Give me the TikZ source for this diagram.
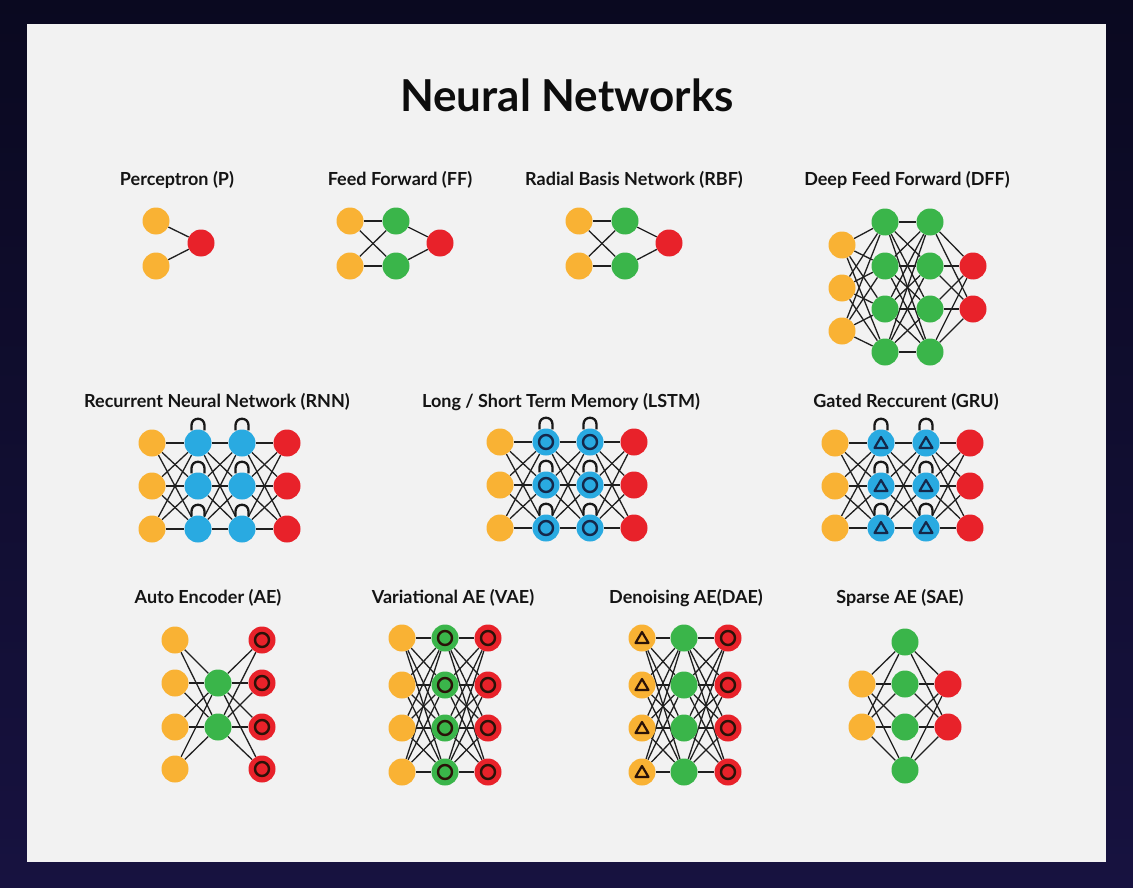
\documentclass[tikz,border=0pt]{standalone}
\usepackage{fontspec}
\setmainfont{Lato}
\pgfdeclarelayer{bg}
\pgfdeclarelayer{edges}
\pgfsetlayers{bg,edges,main}
\definecolor{cOr}{HTML}{F9B234}
\definecolor{cGr}{HTML}{3AB54A}
\definecolor{cRd}{HTML}{E8222A}
\definecolor{cBl}{HTML}{29AAE1}
\definecolor{cNv}{HTML}{15284A}
\definecolor{cDk}{HTML}{2A1208}
\definecolor{cPanel}{HTML}{F2F2F2}
\definecolor{cSpace}{HTML}{0A0920}
\definecolor{cSpace2}{HTML}{171240}
\tikzset{
  nn/.style={circle, minimum size=27pt, inner sep=0pt, draw=none},
  inp/.style={nn, fill=cOr},
  hid/.style={nn, fill=cGr},
  outp/.style={nn, fill=cRd},
  rec/.style={nn, fill=cBl},
  ringed/.style={path picture={\draw[line width=2.4pt, #1] (path picture bounding box.center) circle (7pt);}},
  tri/.style={path picture={\draw[line width=2.2pt, #1, line join=round, shift={(path picture bounding box.center)}] (0pt,6pt) -- (-6.5pt,-5pt) -- (6.5pt,-5pt) -- cycle;}},
  edge/.style={draw=black!88, line width=1.3pt},
  loopst/.style={draw=black!90, line width=2.3pt},
  lbl/.style={font=\bfseries\fontsize{18}{20}\selectfont, text=black!92},
  ttl/.style={font=\bfseries\fontsize{44}{48}\selectfont, text=black!95}
}
\begin{document}
\begin{tikzpicture}[x=1pt, y=-1pt]
\useasboundingbox (0,0) rectangle (1133,888);
\begin{pgfonlayer}{bg}
  \shade[top color=cSpace, bottom color=cSpace2] (0,0) rectangle (1133,888);
  \fill[cPanel] (27,24) rectangle (1106,862);
\end{pgfonlayer}

\node[ttl] (title) at (567,95) {Neural Networks};

% ---------- Perceptron
\node[lbl] (lP) at (177,180) {Perceptron (P)};
\node[inp] (pa1) at (156,221) {};
\node[inp] (pa2) at (156,266) {};
\node[outp] (pc1) at (201,243) {};
\begin{pgfonlayer}{edges}
\foreach \i in {1,2} \draw[edge] (pa\i) -- (pc1);
\end{pgfonlayer}

% ---------- Feed Forward
\node[lbl] (lFF) at (400,180) {Feed Forward (FF)};
\node[inp] (fa1) at (350,221) {};
\node[inp] (fa2) at (350,266) {};
\node[hid] (fb1) at (396,221) {};
\node[hid] (fb2) at (396,266) {};
\node[outp] (fc1) at (440,243) {};
\begin{pgfonlayer}{edges}
\foreach \i in {1,2} {\foreach \j in {1,2} \draw[edge] (fa\i) -- (fb\j); \draw[edge] (fb\i) -- (fc1);}
\end{pgfonlayer}

% ---------- RBF
\node[lbl] (lRBF) at (634,180) {Radial Basis Network (RBF)};
\node[inp] (ra1) at (579,221) {};
\node[inp] (ra2) at (579,266) {};
\node[hid] (rb1) at (625,221) {};
\node[hid] (rb2) at (625,266) {};
\node[outp] (rc1) at (669,243) {};
\begin{pgfonlayer}{edges}
\foreach \i in {1,2} {\foreach \j in {1,2} \draw[edge] (ra\i) -- (rb\j); \draw[edge] (rb\i) -- (rc1);}
\end{pgfonlayer}

% ---------- DFF
\node[lbl] (lDFF) at (907,180) {Deep Feed Forward (DFF)};
\foreach \i/\y in {1/245,2/288,3/331} \node[inp] (da\i) at (842,\y) {};
\foreach \i/\y in {1/222,2/266,3/309,4/352} {
  \node[hid] (db\i) at (885,\y) {};
  \node[hid] (dc\i) at (930,\y) {};
}
\foreach \i/\y in {1/266,2/309} \node[outp] (dd\i) at (973,\y) {};
\begin{pgfonlayer}{edges}
\foreach \j in {1,...,4} {
  \foreach \i in {1,2,3} \draw[edge] (da\i) -- (db\j);
  \foreach \i in {1,...,4} \draw[edge] (db\i) -- (dc\j);
  \foreach \k in {1,2} \draw[edge] (dc\j) -- (dd\k);
}
\end{pgfonlayer}

% ---------- RNN
\node[lbl] (lRNN) at (217,402) {Recurrent Neural Network (RNN)};
\foreach \i/\y in {1/443,2/486,3/529} {
  \node[inp] (na\i) at (152,\y) {};
  \node[rec] (nb\i) at (198,\y) {};
  \node[rec] (nc\i) at (242,\y) {};
  \node[outp] (nd\i) at (287,\y) {};
}
\begin{pgfonlayer}{edges}
\foreach \i in {1,2,3} \foreach \j in {1,2,3} {
  \draw[edge] (na\i) -- (nb\j);
  \draw[edge] (nb\i) -- (nc\j);
  \draw[edge] (nc\i) -- (nd\j);
}
\end{pgfonlayer}
\foreach \n in {nb1,nb2,nb3,nc1,nc2,nc3}
  \draw[loopst] ([xshift=-6.5pt,yshift=-1pt]\n.north) -- ++(0pt,5pt) .. controls +(0pt,8.7pt) and +(0pt,8.7pt) .. ++(13pt,0pt) -- ++(0pt,-5pt);

% ---------- LSTM
\node[lbl] (lLSTM) at (561,402) {Long / Short Term Memory (LSTM)};
\foreach \i/\y in {1/442,2/485,3/528} {
  \node[inp] (la\i) at (500,\y) {};
  \node[rec, ringed=cNv] (lb\i) at (546,\y) {};
  \node[rec, ringed=cNv] (lc\i) at (590,\y) {};
  \node[outp] (ld\i) at (634,\y) {};
}
\begin{pgfonlayer}{edges}
\foreach \i in {1,2,3} \foreach \j in {1,2,3} {
  \draw[edge] (la\i) -- (lb\j);
  \draw[edge] (lb\i) -- (lc\j);
  \draw[edge] (lc\i) -- (ld\j);
}
\end{pgfonlayer}
\foreach \n in {lb1,lb2,lb3,lc1,lc2,lc3}
  \draw[loopst] ([xshift=-6.5pt,yshift=-1pt]\n.north) -- ++(0pt,5pt) .. controls +(0pt,8.7pt) and +(0pt,8.7pt) .. ++(13pt,0pt) -- ++(0pt,-5pt);

% ---------- GRU
\node[lbl] (lGRU) at (906,402) {Gated Reccurent (GRU)};
\foreach \i/\y in {1/443,2/486,3/528} {
  \node[inp] (ga\i) at (835,\y) {};
  \node[rec, tri=cNv] (gb\i) at (881,\y) {};
  \node[rec, tri=cNv] (gc\i) at (926,\y) {};
  \node[outp] (gd\i) at (970,\y) {};
}
\begin{pgfonlayer}{edges}
\foreach \i in {1,2,3} \foreach \j in {1,2,3} {
  \draw[edge] (ga\i) -- (gb\j);
  \draw[edge] (gb\i) -- (gc\j);
  \draw[edge] (gc\i) -- (gd\j);
}
\end{pgfonlayer}
\foreach \n in {gb1,gb2,gb3,gc1,gc2,gc3}
  \draw[loopst] ([xshift=-6.5pt,yshift=-1pt]\n.north) -- ++(0pt,5pt) .. controls +(0pt,8.7pt) and +(0pt,8.7pt) .. ++(13pt,0pt) -- ++(0pt,-5pt);

% ---------- AE
\node[lbl] (lAE) at (208,598) {Auto Encoder (AE)};
\foreach \i/\y in {1/640,2/683,3/727,4/769} {
  \node[inp] (aa\i) at (175,\y) {};
  \node[outp, ringed=cDk] (ac\i) at (262,\y) {};
}
\node[hid] (ab1) at (218,683) {};
\node[hid] (ab2) at (218,727) {};
\begin{pgfonlayer}{edges}
\foreach \i in {1,...,4} \foreach \j in {1,2} {
  \draw[edge] (aa\i) -- (ab\j);
  \draw[edge] (ab\j) -- (ac\i);
}
\end{pgfonlayer}

% ---------- VAE
\node[lbl] (lVAE) at (453,598) {Variational AE (VAE)};
\foreach \i/\y in {1/638,2/685,3/728,4/772} {
  \node[inp] (va\i) at (402,\y) {};
  \node[hid, ringed=cDk] (vb\i) at (445,\y) {};
  \node[outp, ringed=cDk] (vc\i) at (488,\y) {};
}
\begin{pgfonlayer}{edges}
\foreach \i in {1,...,4} \foreach \j in {1,...,4} {
  \draw[edge] (va\i) -- (vb\j);
  \draw[edge] (vb\i) -- (vc\j);
}
\end{pgfonlayer}

% ---------- DAE
\node[lbl] (lDAE) at (686,598) {Denoising AE(DAE)};
\foreach \i/\y in {1/638,2/685,3/728,4/772} {
  \node[inp, tri=cDk] (ea\i) at (642,\y) {};
  \node[hid] (eb\i) at (684,\y) {};
  \node[outp, ringed=cDk] (ec\i) at (728,\y) {};
}
\begin{pgfonlayer}{edges}
\foreach \i in {1,...,4} \foreach \j in {1,...,4} {
  \draw[edge] (ea\i) -- (eb\j);
  \draw[edge] (eb\i) -- (ec\j);
}
\end{pgfonlayer}

% ---------- SAE
\node[lbl] (lSAE) at (900,598) {Sparse AE (SAE)};
\foreach \i/\y in {1/642,2/684,3/727,4/770} \node[hid] (sb\i) at (905,\y) {};
\node[inp] (sa1) at (862,684) {};
\node[inp] (sa2) at (862,727) {};
\node[outp] (sc1) at (948,684) {};
\node[outp] (sc2) at (948,727) {};
\begin{pgfonlayer}{edges}
\foreach \i in {1,2} \foreach \j in {1,...,4} {
  \draw[edge] (sa\i) -- (sb\j);
  \draw[edge] (sb\j) -- (sc\i);
}
\end{pgfonlayer}
\end{tikzpicture}
\end{document}
